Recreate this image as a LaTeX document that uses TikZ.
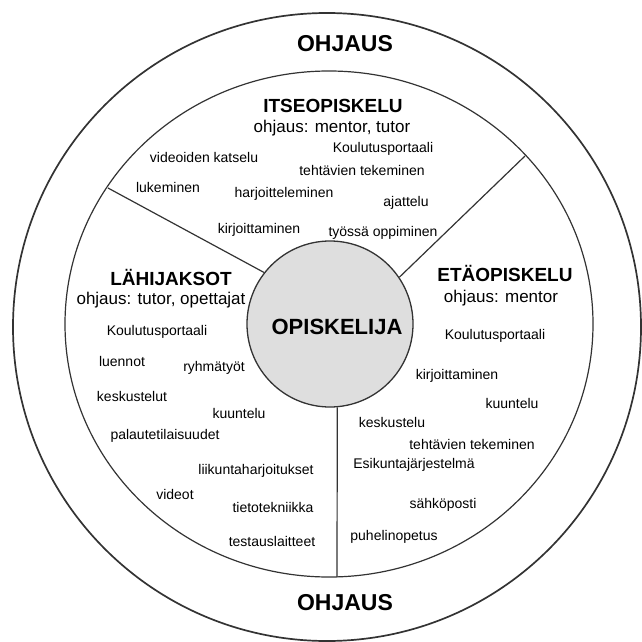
\documentclass[tikz,border=0pt]{standalone}
\usepackage{fontspec}
\setmainfont{Liberation Sans}
\begin{document}
\begin{tikzpicture}[x=1pt,y=-1pt,
    ring/.style={draw=black!80, line width=1.7pt},
    rim/.style={draw=black!80, line width=1.2pt},
    spoke/.style={draw=black!80, line width=1.2pt},
    title/.style={font=\fontsize{23}{26}\selectfont\bfseries},
    sector/.style={font=\fontsize{19}{22}\selectfont\bfseries},
    guide/.style={font=\fontsize{17}{20}\selectfont},
    item/.style={font=\fontsize{14}{16}\selectfont, inner sep=0pt}]
    \useasboundingbox (0,0) rectangle (641,642);

    % Outer and inner rings
    \draw[ring] (327,327) circle [radius=314];
    \draw[rim] (329,324) ellipse [x radius=264, y radius=253];

    % Student in the middle
    \node[draw=black!80, line width=1.3pt, circle, fill=black!13, minimum size=166pt] (opisk) at (330,324) {};
    \node[title, font=\fontsize{22}{26}\selectfont\bfseries] (opisklabel) at (337,327) {OPISKELIJA};

    % Spokes between the sectors
    \coordinate (spokeul) at (108,188);
    \coordinate (spokeur) at (525,156);
    \coordinate (spokebot) at (337,577);
    \draw[spoke] (spokeul) -- (opisk.142);
    \draw[spoke] (spokeur) -- (opisk.34);
    \draw[spoke] (opisk.-85) -- (spokebot);

    % Guidance
    \node[title] (ohjtop) at (345,44) {OHJAUS};
    \node[title] (ohjbot) at (345,603) {OHJAUS};

    % Itseopiskelu
    \node[sector] (itse) at (333,106) {ITSEOPISKELU};
    \node[guide] (itseohj) at (332,128) {ohjaus: mentor, tutor};
    \node[item] (i1) at (383,149) {Koulutusportaali};
    \node[item] (i2) at (204,157) {videoiden katselu};
    \node[item] (i3) at (362,170) {tehtävien tekeminen};
    \node[item] (i4) at (168,187) {lukeminen};
    \node[item] (i5) at (284,194) {harjoitteleminen};
    \node[item] (i6) at (406,203) {ajattelu};
    \node[item] (i7) at (259,230) {kirjoittaminen};
    \node[item] (i8) at (383,233) {työssä oppiminen};

    % Lähijaksot
    \node[sector] (lahi) at (171,277) {LÄHIJAKSOT};
    \node[guide] (lahiohj) at (161,300) {ohjaus: tutor, opettajat};
    \node[item] (l1) at (157,332) {Koulutusportaali};
    \node[item] (l2) at (122,361) {luennot};
    \node[item] (l3) at (214,368) {ryhmätyöt};
    \node[item] (l4) at (132,396) {keskustelut};
    \node[item] (l5) at (239,413) {kuuntelu};
    \node[item] (l6) at (165,436) {palautetilaisuudet};
    \node[item] (l7) at (256,471) {liikuntaharjoitukset};
    \node[item] (l8) at (175,494) {videot};
    \node[item] (l9) at (273,507) {tietotekniikka};
    \node[item] (l10) at (272,541) {testauslaitteet};

    % Etäopiskelu
    \node[sector] (eta) at (505,273) {ETÄOPISKELU};
    \node[guide] (etaohj) at (501,298) {ohjaus: mentor};
    \node[item] (e1) at (495,336) {Koulutusportaali};
    \node[item] (e2) at (457,376) {kirjoittaminen};
    \node[item] (e3) at (512,403) {kuuntelu};
    \node[item] (e4) at (392,422) {keskustelu};
    \node[item] (e5) at (472,444) {tehtävien tekeminen};
    \node[item] (e6) at (414,465) {Esikuntajärjestelmä};
    \node[item] (e7) at (443,505) {sähköposti};
    \node[item] (e8) at (394,537) {puhelinopetus};
\end{tikzpicture}
\end{document}
